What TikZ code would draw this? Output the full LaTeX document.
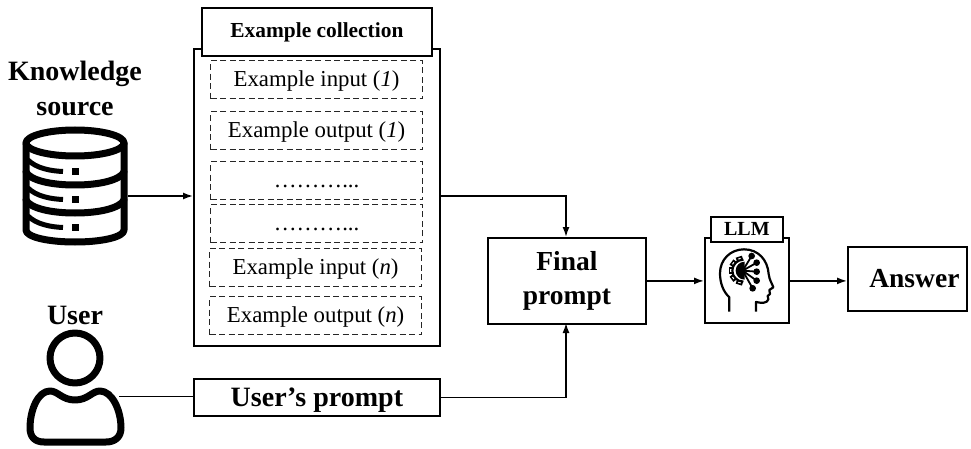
\documentclass[tikz,border=0pt]{standalone}
\usepackage{fontspec}
\setmainfont{Liberation Serif}
\usetikzlibrary{arrows.meta}
\newcommand{\fs}[1]{\fontsize{#1}{#1}\selectfont}
\newcommand{\lowered}[2]{\raisebox{-#1pt}[0pt][0pt]{#2}}
\tikzset{
  box/.style={draw=black,line width=1.8pt,fill=white,inner sep=0pt,anchor=north west},
  dbox/.style={draw=black!85,dashed,dash pattern=on 6pt off 3.5pt,line width=1.2pt,fill=white,inner sep=0pt,anchor=north west,minimum width=212pt,minimum height=38pt,font=\fs{22.8}},
  conn/.style={line width=1.6pt,-{Latex[length=10pt,width=7pt]}},
  plain/.style={line width=1.6pt},
  label/.style={inner sep=0pt,font=\bfseries\fs{28},align=center},
  ico/.style={line width=7pt,line cap=round,line join=round},
}
\begin{document}
\begin{tikzpicture}[x=1pt,y=-1pt]
\useasboundingbox (0,0) rectangle (971,449);
% collection
\node[box,minimum width=246pt,minimum height=297pt] (coll) at (193,48) {};
\node[box,minimum width=230pt,minimum height=48pt,font=\bfseries\fs{21.4}] (colltitle) at (201,7) {Example collection};
\node[dbox] (d1) at (210,60) {\lowered{7}{Example input (\textit{1})}};
\node[dbox] (d2) at (210,111) {\lowered{7}{Example output (\textit{1})}};
\node[dbox] (d3) at (210,161) {\lowered{7}{………...}};
\node[dbox] (d4) at (210,204) {\lowered{7}{………...}};
\node[dbox] (d5) at (209,248) {\lowered{7}{Example input (\textit{n})}};
\node[dbox] (d6) at (209,296) {\lowered{7}{Example output (\textit{n})}};
% others
\node[box,minimum width=246pt,minimum height=37pt,font=\bfseries\fs{28}] (uprompt) at (193,378) {\lowered{9}{User’s prompt}};
\node[box,minimum width=158pt,minimum height=86pt,font=\bfseries\fs{27.5},align=center] (final) at (487,237) {Final\\[6pt]prompt};
\node[box,minimum width=84pt,minimum height=85pt] (llm) at (704,237) {};
\node[box,minimum width=72pt,minimum height=25pt,font=\bfseries\fs{20}] (llmtitle) at (710,216) {LLM};
\node[box,minimum width=119pt,minimum height=64pt,font=\bfseries\fs{27.5}] (answer) at (847,246) {\hspace*{14pt}Answer};
\node[label] (kn) at (75,88) {Knowledge\\[7pt]source};
\node[label] (usr) at (75,315) {User};
% anchors of the icons
\node[inner sep=0pt,minimum width=0pt] (db) at (128,196) {};
\node[inner sep=0pt,minimum width=0pt] (person) at (119,396.5) {};
% database icon
\begin{scope}[ico]
\draw (26,143) arc[start angle=180,end angle=-180,x radius=49,y radius=13];
\draw (26,143) -- (26,230) .. controls (26,237) and (48,242) .. (75,242) .. controls (102,242) and (124,237) .. (124,230) -- (124,143);
\draw (26,172) .. controls (30,180) and (50,185) .. (75,185) .. controls (100,185) and (120,180) .. (124,172);
\draw (26,200) .. controls (30,208) and (50,213) .. (75,213) .. controls (100,213) and (120,208) .. (124,200);
\end{scope}
\begin{scope}[line width=5pt]
\draw (28,160) .. controls (36,168) and (50,171) .. (63,171.5);
\draw (28,188) .. controls (36,196) and (50,199) .. (63,199.5);
\draw (28,216) .. controls (36,224) and (50,227) .. (63,227.5);
\end{scope}
\fill (72,168) rectangle (79,175);
\fill (72,196) rectangle (79,203);
\fill (72,224) rectangle (79,231);
% user icon
\draw[ico] (75,358) circle[radius=25];
\draw[ico] (50,391) .. controls (58,391) and (62,400) .. (75,400) .. controls (88,400) and (92,391) .. (100,391)
  .. controls (112,391) and (121,410) .. (121,428) .. controls (121,437) and (115,442) .. (106,442)
  -- (44,442) .. controls (35,442) and (30,437) .. (30,428) .. controls (30,410) and (38,391) .. (50,391) -- cycle;
% head icon
\begin{scope}[shift={(690,200)},x=0.3333pt,y=-0.3333pt]
\draw[line width=2.2pt,line join=round] (118,335) -- (118,292) .. controls (100,275) and (90,250) .. (90,220)
  .. controls (90,178) and (122,148) .. (162,148) .. controls (205,148) and (233,180) .. (236,222)
  .. controls (238,240) and (246,250) .. (250,262) -- (238,270) -- (240,282) -- (233,288) -- (235,298)
  .. controls (232,310) and (215,310) .. (198,306) -- (198,335);
\begin{scope}[shift={(160,212)}]
  \foreach \a in {108,144,180,216,252}{
    \draw[line width=6.5pt] (\a:30) -- (\a:44);
    \draw[line width=2.4pt,white] (\a:28) -- (\a:39);
  }
  \draw[line width=2.2pt] (270:33) arc[start angle=270,end angle=90,radius=33];
  \fill (4,-27) arc[start angle=270,end angle=90,radius=27] -- cycle;
\end{scope}
\foreach \p/\q in {185/168,200/188,200/215,200/242,188/265}{
  \draw[line width=1.8pt] (158,212) -- (\p,\q);
  \fill (\p,\q) circle[radius=10];
}
\end{scope}
% connectors
\draw[conn] (db) -- (db -| coll.west);
\draw[conn] (coll.east |- db) -| (566,237);
\draw[plain] (person) -- (person -| uprompt.west);
\draw[conn] (uprompt.east) -| (566,323);
\draw[conn] (final.east) -- (final.east -| llm.west);
\draw[conn] (llm.east |- final.east) -- (answer.west |- final.east);
\end{tikzpicture}
\end{document}
